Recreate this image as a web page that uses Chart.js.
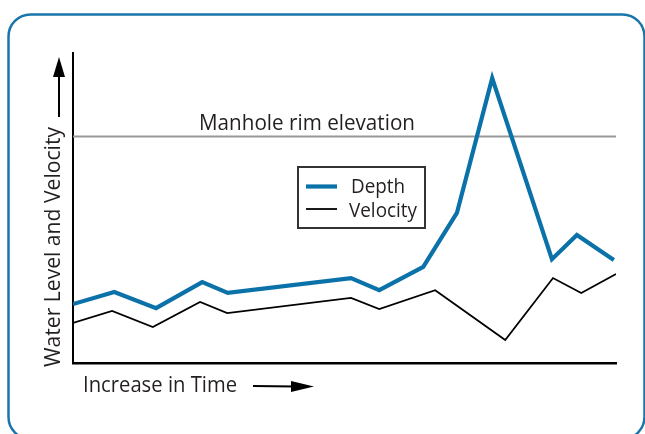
<!DOCTYPE html>
<html>
<head>
<meta charset="utf-8">
<style>
  html, body { margin: 0; padding: 0; background: #fff; }
  canvas { display: block; }
</style>
<script src="https://cdn.jsdelivr.net/npm/chart.js@4.4.0/dist/chart.umd.min.js"></script>
</head>
<body>
<canvas id="flowChart" width="645" height="434"></canvas>
<script>
// time axis (arbitrary units 0-100) and levels (0-100)
const depthTime = [0, 7.6, 15.3, 23.8, 28.5, 51.2, 56.4, 64.5, 70.7, 77.2, 88.2, 92.8, 99.6];
const depthLevel = [19.0, 22.9, 17.7, 26.1, 22.6, 27.4, 23.5, 31.0, 48.4, 91.9, 33.5, 41.3, 33.2];

const velocityTime = [0, 7.2, 14.7, 23.4, 28.4, 51.2, 56.4, 66.7, 79.6, 88.4, 93.6, 100];
const velocityLevel = [12.9, 16.8, 11.6, 19.7, 16.1, 21.0, 17.4, 23.5, 7.4, 27.4, 22.6, 28.7];

const rimTime = [0, 100];
const rimLevel = 73.1;

const seriesLabels = ["Depth", "Velocity"];
const rimLabel = "Manhole rim elevation";
const xTitle = "Increase in Time";
const yTitle = "Water Level and Velocity";

const FONT = '"Open Sans", "Noto Sans", sans-serif';
const BLUE = "#0b72a9";

function toPoints(xs, ys) {
    return xs.map((x, i) => ({ x: x, y: Array.isArray(ys) ? ys[i] : ys }));
}

// draw text squeezed to a given width (the original face is narrow)
function fitText(ctx, text, x, y, width, size, rotate) {
    ctx.save();
    ctx.font = size + "px " + FONT;
    ctx.textAlign = "left";
    ctx.textBaseline = "alphabetic";
    ctx.fillStyle = "#231f20";
    const m = ctx.measureText(text).width;
    ctx.translate(x, y);
    if (rotate) ctx.rotate(-Math.PI / 2);
    ctx.scale(width / m, 1);
    ctx.fillText(text, 0, 0);
    ctx.restore();
}

function arrowHead(ctx, tipX, tipY, dir, len, half) {
    ctx.beginPath();
    if (dir === "up") {
        ctx.moveTo(tipX, tipY);
        ctx.lineTo(tipX - half, tipY + len);
        ctx.lineTo(tipX + half, tipY + len);
    } else {
        ctx.moveTo(tipX, tipY);
        ctx.lineTo(tipX - len, tipY - half);
        ctx.lineTo(tipX - len, tipY + half);
    }
    ctx.closePath();
    ctx.fill();
}

const decorations = {
    id: "decorations",
    beforeDraw(chart) {
        const c = chart.ctx;
        c.save();
        c.strokeStyle = "#1a75ab";
        c.lineWidth = 2.5;
        c.beginPath();
        c.roundRect(8.5, 14.5, 636, 424.5, 22);
        c.stroke();
        c.restore();
    },
    afterDraw(chart) {
        const c = chart.ctx;
        const yScale = chart.scales.y;

        // rim label sits just above the grey line
        const rimY = yScale.getPixelForValue(rimLevel);
        fitText(c, rimLabel, 199, rimY - 6, 216, 22);

        // axis titles with arrows
        fitText(c, yTitle, 60, 367, 240, 22, true);
        fitText(c, xTitle, 83, 392, 154, 21);

        c.save();
        c.fillStyle = "#000";
        c.strokeStyle = "#000";
        c.lineWidth = 2;
        c.beginPath();
        c.moveTo(59, 117);
        c.lineTo(59, 72);
        c.stroke();
        arrowHead(c, 59, 57, "up", 20, 6);

        c.beginPath();
        c.moveTo(253, 386);
        c.lineTo(295, 386.5);
        c.stroke();
        arrowHead(c, 314, 386.5, "right", 23, 5.5);
        c.restore();

        // legend box
        c.save();
        c.strokeStyle = "#333";
        c.lineWidth = 2;
        c.strokeRect(298, 167, 127, 61);
        const ds = chart.data.datasets;
        [[0, 186.5], [1, 209]].forEach(([i, y]) => {
            c.strokeStyle = ds[i].borderColor;
            c.lineWidth = ds[i].borderWidth;
            c.beginPath();
            c.moveTo(306, y);
            c.lineTo(337, y);
            c.stroke();
        });
        c.restore();
        fitText(c, seriesLabels[0], 351, 193, 54, 20);
        fitText(c, seriesLabels[1], 349, 217, 68, 20);
    },
};

const ctx = document.getElementById("flowChart").getContext("2d");

new Chart(ctx, {
    type: "line",
    data: {
        datasets: [
            {
                label: seriesLabels[0],
                data: toPoints(depthTime, depthLevel),
                borderColor: BLUE,
                borderWidth: 4.2,
                pointRadius: 0,
                tension: 0,
                fill: false,
            },
            {
                label: seriesLabels[1],
                data: toPoints(velocityTime, velocityLevel),
                borderColor: "#000",
                borderWidth: 1.8,
                pointRadius: 0,
                tension: 0,
                fill: false,
            },
            {
                label: rimLabel,
                data: toPoints(rimTime, rimLevel),
                borderColor: "#999",
                borderWidth: 2,
                pointRadius: 0,
                tension: 0,
                fill: false,
            },
        ],
    },
    options: {
        responsive: false,
        animation: false,
        events: [],
        layout: {
            padding: { left: 73, right: 29, top: 53, bottom: 71 },
        },
        plugins: {
            legend: { display: false },
            tooltip: { enabled: false },
        },
        scales: {
            x: {
                type: "linear",
                min: 0,
                max: 100,
                ticks: { display: false },
                grid: { display: false, drawTicks: false },
                border: { display: true, color: "#000", width: 2.4 },
            },
            y: {
                min: 0,
                max: 100,
                ticks: { display: false },
                grid: { display: false, drawTicks: false },
                border: { display: true, color: "#000", width: 2 },
            },
        },
    },
    plugins: [decorations],
});
</script>
</body>
</html>
